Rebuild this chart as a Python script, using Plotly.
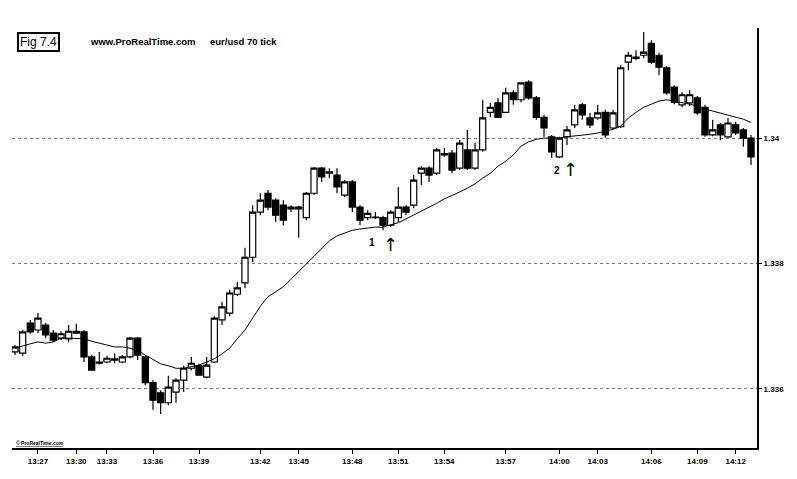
import plotly.graph_objects as go

# ---- data (EUR/USD, 70-tick bars) ----
opens = [1.33659,1.33657,1.33705,1.33694,1.33702,1.33689,1.33681,1.33680,1.33689,1.33691,
         1.33651,1.33641,1.33643,1.33646,1.33643,1.33651,1.33681,1.33651,1.33610,1.33594,
         1.33578,1.33595,1.33614,1.33633,1.33637,1.33619,1.33643,1.33710,1.33721,1.33751,
         1.33769,1.33810,1.33882,1.33912,1.33901,1.33893,1.33890,1.33887,1.33873,1.33912,
         1.33952,1.33944,1.33941,1.33909,1.33930,1.33890,1.33873,1.33873,1.33873,1.33861,
         1.33873,1.33890,1.33893,1.33944,1.33952,1.33944,1.33973,1.33976,1.33952,1.33981,
         1.33952,1.33981,1.34041,1.34056,1.34041,1.34072,1.34061,1.34089,1.34064,1.34033,
         1.34002,1.33970,1.34002,1.34021,1.34053,1.34032,1.34032,1.34041,1.34016,1.34018,
         1.34121,1.34127,1.34132,1.34151,1.34132,1.34112,1.34081,1.34053,1.34056,1.34064,
         1.34049,1.34005,1.34021,1.34002,1.34021,1.34013,1.34000]
highs = [1.33670,1.33694,1.33710,1.33721,1.33705,1.33694,1.33692,1.33702,1.33704,1.33694,
         1.33654,1.33659,1.33653,1.33657,1.33654,1.33683,1.33683,1.33653,1.33614,1.33598,
         1.33621,1.33617,1.33637,1.33651,1.33640,1.33651,1.33716,1.33739,1.33758,1.33771,
         1.33825,1.33893,1.33912,1.33917,1.33904,1.33901,1.33893,1.33892,1.33914,1.33954,
         1.33954,1.33952,1.33952,1.33933,1.33933,1.33893,1.33885,1.33882,1.33876,1.33885,
         1.33922,1.33893,1.33941,1.33955,1.33955,1.33984,1.33984,1.33981,1.33997,1.34013,
         1.33992,1.34061,1.34056,1.34064,1.34080,1.34076,1.34089,1.34092,1.34067,1.34037,
         1.34005,1.34002,1.34019,1.34053,1.34056,1.34040,1.34053,1.34045,1.34045,1.34116,
         1.34137,1.34140,1.34169,1.34156,1.34136,1.34115,1.34084,1.34073,1.34076,1.34067,
         1.34053,1.34029,1.34024,1.34032,1.34026,1.34016,1.34005]
lows = [1.33654,1.33653,1.33688,1.33689,1.33681,1.33675,1.33678,1.33675,1.33688,1.33643,
        1.33629,1.33639,1.33641,1.33641,1.33641,1.33649,1.33646,1.33606,1.33567,1.33560,
        1.33574,1.33578,1.33595,1.33630,1.33621,1.33617,1.33641,1.33702,1.33716,1.33748,
        1.33761,1.33802,1.33877,1.33885,1.33866,1.33861,1.33882,1.33841,1.33869,1.33909,
        1.33930,1.33936,1.33912,1.33906,1.33882,1.33861,1.33869,1.33871,1.33853,1.33858,
        1.33866,1.33877,1.33888,1.33925,1.33930,1.33941,1.33970,1.33944,1.33949,1.33949,
        1.33949,1.33978,1.34033,1.34032,1.34040,1.34053,1.34057,1.34061,1.34029,1.34002,
        1.33968,1.33968,1.33989,1.34016,1.34029,1.34016,1.34029,1.34000,1.34013,1.34016,
        1.34108,1.34124,1.34127,1.34118,1.34100,1.34069,1.34054,1.34049,1.34051,1.34037,
        1.34002,1.34003,1.33997,1.34000,1.34005,1.33986,1.33957]
closes = [1.33667,1.33691,1.33691,1.33713,1.33686,1.33678,1.33688,1.33692,1.33692,1.33651,
          1.33630,1.33643,1.33649,1.33648,1.33651,1.33681,1.33654,1.33610,1.33582,1.33578,
          1.33603,1.33614,1.33633,1.33641,1.33622,1.33638,1.33713,1.33731,1.33753,1.33761,
          1.33810,1.33882,1.33901,1.33890,1.33877,1.33869,1.33887,1.33890,1.33912,1.33952,
          1.33938,1.33946,1.33922,1.33930,1.33890,1.33869,1.33880,1.33874,1.33861,1.33882,
          1.33890,1.33882,1.33933,1.33952,1.33941,1.33981,1.33975,1.33949,1.33992,1.33952,
          1.33981,1.34032,1.34049,1.34033,1.34072,1.34061,1.34088,1.34064,1.34033,1.34016,
          1.33978,1.34000,1.34013,1.34045,1.34037,1.34021,1.34040,1.34005,1.34040,1.34112,
          1.34132,1.34129,1.34137,1.34121,1.34113,1.34072,1.34057,1.34069,1.34069,1.34040,
          1.34005,1.34013,1.34005,1.34024,1.34008,1.34000,1.33970]
moving_avg = [1.33665,1.33669,1.33672,1.33675,1.33673,1.33675,1.33681,1.33681,1.33681,1.33680,
              1.33676,1.33673,1.33670,1.33667,1.33667,1.33665,1.33661,1.33654,1.33646,1.33640,
              1.33637,1.33633,1.33633,1.33635,1.33638,1.33643,1.33648,1.33656,1.33665,1.33680,
              1.33694,1.33713,1.33732,1.33747,1.33755,1.33763,1.33775,1.33787,1.33799,1.33812,
              1.33823,1.33836,1.33844,1.33849,1.33853,1.33855,1.33857,1.33858,1.33858,1.33861,
              1.33865,1.33871,1.33877,1.33884,1.33890,1.33896,1.33903,1.33908,1.33914,1.33920,
              1.33927,1.33936,1.33944,1.33955,1.33963,1.33973,1.33987,1.33994,1.33998,1.34000,
              1.34000,1.34000,1.34002,1.34003,1.34005,1.34006,1.34008,1.34011,1.34014,1.34019,
              1.34032,1.34041,1.34049,1.34054,1.34059,1.34061,1.34059,1.34057,1.34054,1.34051,
              1.34046,1.34043,1.34040,1.34037,1.34033,1.34030,1.34025]
bars = list(range(len(opens)))

tick_bars = [3, 8, 12, 18, 24, 32, 37, 44, 50, 56, 64, 71, 76, 83, 89, 94]
tick_labels = ["13:27", "13:30", "13:33", "13:36", "13:39", "13:42", "13:45", "13:48",
               "13:51", "13:54", "13:57", "14:00", "14:03", "14:06", "14:09", "14:12"]
price_ticks = [1.336, 1.338, 1.34]
price_labels = ["1.336", "1.338", "1.34"]

FONT = "Arial"

fig = go.Figure()
fig.add_trace(go.Candlestick(
    x=bars, open=opens, high=highs, low=lows, close=closes,
    increasing=dict(line=dict(color="black", width=1.2), fillcolor="white"),
    decreasing=dict(line=dict(color="black", width=1.2), fillcolor="black"),
    whiskerwidth=0, showlegend=False, hoverinfo="skip"))
fig.add_trace(go.Scatter(
    x=bars, y=moving_avg, mode="lines",
    line=dict(color="black", width=1), showlegend=False, hoverinfo="skip"))

annotations = [
    dict(text="Fig 7.4", xref="paper", yref="paper", x=0.0362, y=0.9667,
         xanchor="center", yanchor="middle", showarrow=False,
         font=dict(family=FONT, size=12, color="black"),
         bordercolor="black", borderwidth=2, borderpad=1, bgcolor="white"),
    dict(text="<b>www.ProRealTime.com</b>", xref="paper", yref="paper", x=0.102, y=0.9667,
         xanchor="left", yanchor="middle", showarrow=False,
         font=dict(family=FONT, size=9.5, color="black")),
    dict(text="<b>eur/usd 70 tick</b>", xref="paper", yref="paper", x=0.263, y=0.9667,
         xanchor="left", yanchor="middle", showarrow=False,
         font=dict(family=FONT, size=9.5, color="black")),
    dict(text="<b><u>© ProRealTime.com</u></b>", xref="paper", yref="paper", x=0.003, y=0.013,
         xanchor="left", yanchor="middle", showarrow=False,
         font=dict(family=FONT, size=5, color="black")),
    dict(text="<b>1</b>", x=46.5, y=1.33833, xref="x", yref="y", showarrow=False,
         font=dict(family=FONT, size=10, color="black")),
    dict(text="↑", x=49.0, y=1.33830, xref="x", yref="y", showarrow=False,
         font=dict(family="DejaVu Sans", size=18, color="black")),
    dict(text="<b>2</b>", x=70.7, y=1.33949, xref="x", yref="y", showarrow=False,
         font=dict(family=FONT, size=10, color="black")),
    dict(text="↑", x=72.5, y=1.33950, xref="x", yref="y", showarrow=False,
         font=dict(family="DejaVu Sans", size=18, color="black")),
]

fig.update_layout(
    width=797, height=479,
    margin=dict(l=12, r=40, t=28, b=31),
    paper_bgcolor="white", plot_bgcolor="white",
    font=dict(family=FONT, size=8, color="black"),
    boxgap=0.2, boxgroupgap=0,
    annotations=annotations,
    xaxis=dict(range=[-0.39, 96.78], rangeslider=dict(visible=False),
               tickmode="array", tickvals=tick_bars,
               ticktext=["<b>%s</b>" % t for t in tick_labels],
               ticks="outside", ticklen=4, tickwidth=1, tickcolor="black",
               showline=True, linecolor="black", linewidth=2,
               showgrid=False, zeroline=False,
               tickfont=dict(family=FONT, size=8, color="black")),
    yaxis=dict(side="right", range=[1.335059, 1.341754],
               tickmode="array", tickvals=price_ticks,
               ticktext=["<b>%s</b>" % t for t in price_labels],
               ticks="outside", ticklen=3, tickwidth=1, tickcolor="black",
               showline=True, linecolor="black", linewidth=2,
               showgrid=True, gridcolor="#777777", gridwidth=1, griddash="dot",
               zeroline=False,
               tickfont=dict(family=FONT, size=8, color="black")),
)

fig.write_html("out.html")
